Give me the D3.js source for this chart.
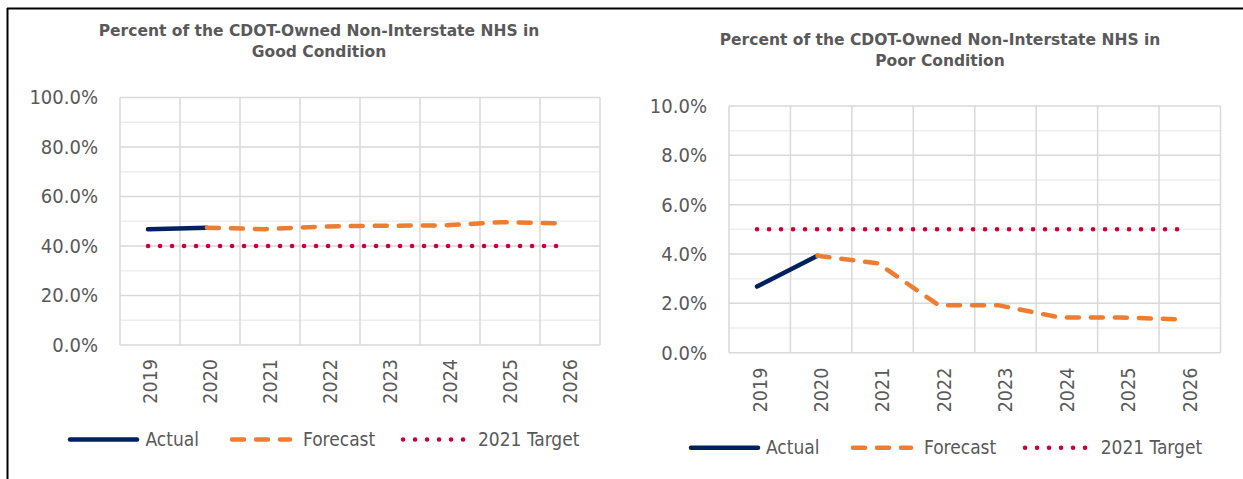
<!DOCTYPE html>
<html><head><meta charset="utf-8">
<script src="https://cdn.jsdelivr.net/npm/d3@7"></script>
<style>body{margin:0;background:#fff;} svg{display:block;}</style>
</head><body>
<svg id="c" width="1243" height="479"></svg>
<script>
const years = ["2019","2020","2021","2022","2023","2024","2025","2026"];
const seriesNames = ["Actual","Forecast","2021 Target"];

const goodActual   = [46.8, 47.4, null, null, null, null, null, null];
const goodForecast = [null, 47.4, 46.8, 47.9, 48.2, 48.3, 49.6, 49.2];
const goodTarget   = [40, 40, 40, 40, 40, 40, 40, 40];
const goodTicks    = [0, 20, 40, 60, 80, 100];
const goodTitle    = ["Percent of the CDOT-Owned Non-Interstate NHS in", "Good Condition"];

const poorActual   = [2.68, 3.93, null, null, null, null, null, null];
const poorForecast = [null, 3.93, 3.62, 1.93, 1.92, 1.43, 1.43, 1.35];
const poorTarget   = [5, 5, 5, 5, 5, 5, 5, 5];
const poorTicks    = [0, 2, 4, 6, 8, 10];
const poorTitle    = ["Percent of the CDOT-Owned Non-Interstate NHS in", "Poor Condition"];

const FONT = "'DejaVu Sans Condensed','DejaVu Sans',sans-serif";
const TFONT = "'DejaVu Sans',sans-serif";
const TXT = "#595959";
const COL = {actual: "#002060", forecast: "#ED7D31", target: "#C8003C"};
const STYLE = [
  {stroke: COL.actual, width: 4.5, dash: null},
  {stroke: COL.forecast, width: 4.5, dash: "12,12"},
  {stroke: COL.target, width: 4.5, dash: "0.1,11.9"}
];

const svg = d3.select("#c");

// outer frame
svg.append("line").attr("x1", 7).attr("x2", 1243).attr("y1", 8.5).attr("y2", 8.5)
  .attr("stroke", "#000").attr("stroke-width", 2);
svg.append("line").attr("x1", 7.5).attr("x2", 7.5).attr("y1", 8).attr("y2", 479)
  .attr("stroke", "#000").attr("stroke-width", 2);

function drawChart(cfg) {
  const g = svg.append("g");
  const xb = d3.scaleBand().domain(years).range([cfg.left, cfg.right]);
  const xp = d3.scalePoint().domain(years).range([cfg.left + 28, cfg.right - 40]);
  const y = d3.scaleLinear().domain([0, cfg.max]).range([cfg.bottom, cfg.top]);

  // minor grid
  const minor = d3.range(cfg.minor, cfg.max, cfg.minor * 2);
  g.selectAll(".mn").data(minor).join("line")
    .attr("x1", cfg.left).attr("x2", cfg.right)
    .attr("y1", d => y(d)).attr("y2", d => y(d))
    .attr("stroke", "#eeeeee").attr("stroke-width", 1.5);
  // major grid
  g.selectAll(".mj").data(cfg.ticks).join("line")
    .attr("x1", cfg.left).attr("x2", cfg.right)
    .attr("y1", d => y(d)).attr("y2", d => y(d))
    .attr("stroke", "#d9d9d9").attr("stroke-width", 1.5);
  // vertical grid
  const vx = years.map(d => xb(d)).concat([cfg.right]);
  g.selectAll(".vg").data(vx).join("line")
    .attr("x1", d => d).attr("x2", d => d)
    .attr("y1", y(cfg.max)).attr("y2", y(0))
    .attr("stroke", "#d9d9d9").attr("stroke-width", 1.5);

  // y axis
  const ya = g.append("g").attr("transform", `translate(${cfg.left},0)`)
    .call(d3.axisLeft(y).tickValues(cfg.ticks).tickFormat(d => d.toFixed(1) + "%").tickSize(0).tickPadding(22));
  ya.select(".domain").remove();
  ya.selectAll("text").attr("font-family", FONT).attr("font-size", 20).attr("fill", TXT);

  // x axis
  const xa = g.append("g").attr("transform", `translate(0,${cfg.bottom})`)
    .call(d3.axisBottom(xb).tickSize(0));
  xa.select(".domain").remove();
  xa.selectAll("text")
    .attr("font-family", FONT).attr("font-size", 19.5).attr("fill", TXT)
    .attr("transform", "rotate(-90)")
    .attr("text-anchor", "end")
    .attr("x", -cfg.xLabelGap).attr("y", 0).attr("dy", "0.35em");

  // series
  const line = d3.line().defined(d => d != null).x((d, i) => xp(years[i])).y(d => y(d));
  const series = [cfg.target, cfg.actual, cfg.forecast];
  const sty = [STYLE[2], STYLE[0], STYLE[1]];
  series.forEach((s, k) => {
    g.append("path").datum(s).attr("d", line)
      .attr("fill", "none").attr("stroke", sty[k].stroke).attr("stroke-width", sty[k].width)
      .attr("stroke-linecap", "round").attr("stroke-linejoin", "round")
      .attr("stroke-dasharray", sty[k].dash);
  });

  // title
  const t = g.append("text").attr("font-family", TFONT).attr("font-weight", "bold")
    .attr("font-size", cfg.titleSize).attr("fill", TXT).attr("text-anchor", "middle");
  cfg.title.forEach((s, i) => {
    t.append("tspan").attr("x", cfg.titleX).attr("y", cfg.titleY + i * 21).attr("dy", "0.35em").text(s);
  });

  // legend
  seriesNames.forEach((name, i) => {
    const lx = cfg.legend[i];
    g.append("line").attr("x1", lx[0]).attr("x2", lx[1]).attr("y1", cfg.legendY).attr("y2", cfg.legendY)
      .attr("stroke", STYLE[i].stroke).attr("stroke-width", STYLE[i].width)
      .attr("stroke-linecap", "round").attr("stroke-dasharray", STYLE[i].dash);
    g.append("text").attr("x", lx[2]).attr("y", cfg.legendY).attr("dy", "0.35em")
      .attr("font-family", FONT).attr("font-size", 19).attr("fill", TXT).text(name);
  });
}

drawChart({
  left: 120, right: 600, top: 97.5, bottom: 345, max: 100, minor: 10,
  ticks: goodTicks, actual: goodActual, forecast: goodForecast, target: goodTarget,
  title: goodTitle, titleX: 319, titleY: 31, titleSize: 15.5, xLabelGap: 14,
  legendY: 439.5,
  legend: [[70, 137, 145.5], [232, 290, 303], [403, 464, 478]]
});

drawChart({
  left: 729, right: 1220.5, top: 106, bottom: 352.7, max: 10, minor: 1,
  ticks: poorTicks, actual: poorActual, forecast: poorForecast, target: poorTarget,
  title: poorTitle, titleX: 940, titleY: 39.3, titleSize: 15.5, xLabelGap: 15,
  legendY: 447.7,
  legend: [[691, 758, 766], [853, 911, 924], [1025, 1088, 1100.7]]
});
</script>
</body></html>
